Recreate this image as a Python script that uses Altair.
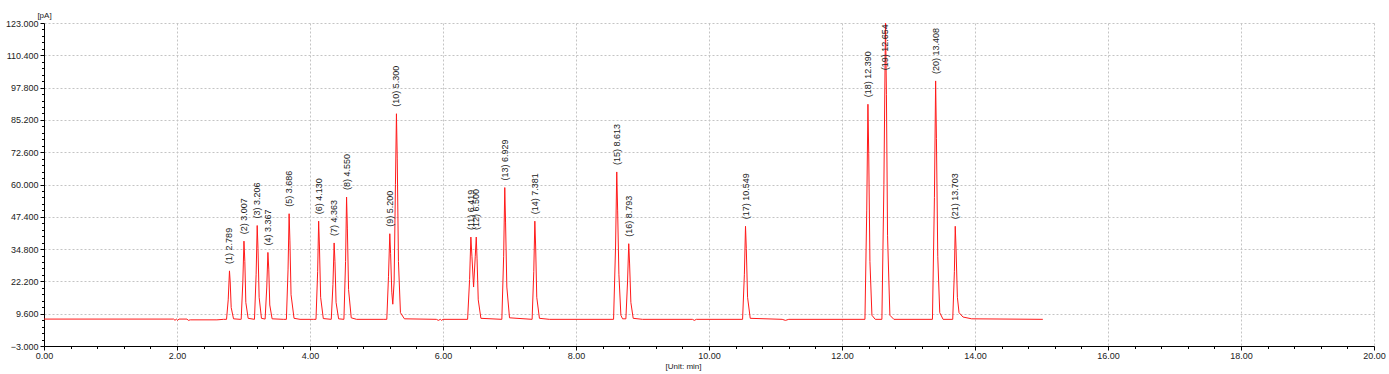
import altair as alt
import pandas as pd

# ---- chromatogram trace ----
trace_time = [
    0.00, 1.95, 1.97, 1.99, 2.01, 2.03, 2.15, 2.17, 2.20, 2.60, 2.70,
    2.745, 2.770, 2.789, 2.800, 2.815, 2.850, 2.950,
    2.965, 2.990, 3.007, 3.020, 3.035, 3.070,
    3.165, 3.190, 3.206, 3.218, 3.235, 3.270,
    3.325, 3.350, 3.367, 3.380, 3.395, 3.430, 3.600,
    3.645, 3.670, 3.686, 3.698, 3.715, 3.760, 3.850, 4.050,
    4.090, 4.115, 4.130, 4.142, 4.160, 4.200,
    4.320, 4.345, 4.363, 4.375, 4.392, 4.430,
    4.510, 4.535, 4.550, 4.562, 4.580, 4.620, 4.700, 5.100,
    5.155, 5.180, 5.200, 5.212, 5.230, 5.245,
    5.265, 5.285, 5.300, 5.312, 5.330, 5.360, 5.420,
    5.900, 5.930, 5.960, 5.980, 6.000, 6.370,
    6.400, 6.419, 6.435, 6.460,
    6.485, 6.500, 6.512, 6.530, 6.570,
    6.885, 6.912, 6.929, 6.941, 6.960, 7.000,
    7.340, 7.365, 7.381, 7.393, 7.410, 7.450, 7.600,
    8.565, 8.595, 8.613, 8.626, 8.645, 8.675, 8.700,
    8.750, 8.775, 8.793, 8.806, 8.825, 8.860, 9.000,
    9.750, 9.780, 9.810, 10.505,
    10.532, 10.549, 10.561, 10.580, 10.620,
    11.100, 11.150, 11.200, 12.345,
    12.372, 12.390, 12.402, 12.420, 12.450, 12.500,
    12.600, 12.630, 12.654, 12.668, 12.685, 12.720, 12.780,
    13.360, 13.390, 13.408, 13.420, 13.440, 13.470, 13.520,
    13.665, 13.690, 13.703, 13.715, 13.735, 13.760, 13.820, 13.950,
    15.020,
]
trace_signal = [
    7.5, 7.5, 7.0, 7.5, 7.0, 7.5, 7.5, 7.0, 7.2, 7.2, 7.4,
    7.4, 15.0, 26.3, 22.0, 12.0, 7.6, 7.4,
    7.4, 22.0, 37.9, 30.0, 14.0, 7.8,
    7.4, 25.0, 44.0, 35.0, 16.0, 7.8,
    7.5, 20.0, 33.5, 27.0, 13.0, 7.6, 7.4,
    7.4, 27.0, 48.6, 38.0, 17.0, 7.8, 7.4, 7.4,
    7.4, 26.0, 45.7, 36.0, 16.0, 7.7,
    7.4, 21.0, 37.2, 30.0, 14.0, 7.6,
    7.4, 30.0, 55.1, 43.0, 19.0, 8.0, 7.4, 7.4,
    7.4, 24.0, 40.8, 33.0, 18.0, 13.3,
    22.0, 60.0, 87.6, 70.0, 30.0, 10.0, 7.6,
    7.4, 7.0, 7.4, 7.0, 7.4, 7.4,
    23.0, 39.5, 32.0, 20.0,
    32.0, 39.5, 31.0, 15.0, 7.8,
    7.4, 32.0, 58.8, 45.0, 20.0, 8.0,
    7.4, 26.0, 45.7, 36.0, 16.0, 7.8, 7.4,
    7.4, 36.0, 64.9, 50.0, 25.0, 9.0, 7.6,
    7.6, 22.0, 36.9, 29.0, 14.0, 7.8, 7.4,
    7.4, 7.0, 7.4, 7.4,
    25.0, 43.7, 35.0, 16.0, 7.8,
    7.4, 7.0, 7.4, 7.4,
    50.0, 91.3, 72.0, 30.0, 9.0, 7.4,
    7.4, 60.0, 124.0, 95.0, 40.0, 9.0, 7.4,
    7.4, 55.0, 100.4, 78.0, 32.0, 10.0, 7.4,
    7.4, 26.0, 43.7, 35.0, 16.0, 10.0, 8.3, 7.6,
    7.4,
]

# ---- peak annotations ----
peak_time = [2.789, 3.007, 3.206, 3.367, 3.686, 4.130, 4.363, 4.550, 5.200, 5.300,
             6.419, 6.500, 6.929, 7.381, 8.613, 8.793, 10.549, 12.390, 12.654,
             13.408, 13.703]
peak_height = [26.3, 37.9, 44.0, 33.5, 48.6, 45.7, 37.2, 55.1, 40.8, 87.6,
               39.5, 39.5, 58.8, 45.7, 64.9, 36.9, 43.7, 91.3, 124.0,
               100.4, 43.7]
peak_label = [f"({i + 1}) {t:.3f}" for i, t in enumerate(peak_time)]

y_major = [-3.0, 9.6, 22.2, 34.8, 47.4, 60.0, 72.6, 85.2, 97.8, 110.4, 123.0]
x_major = [0, 2, 4, 6, 8, 10, 12, 14, 16, 18, 20]

y_ticks = [round(-3 + 2.52 * i, 2) for i in range(51)]
x_ticks = [round(0.4 * i, 2) for i in range(51)]

trace_df = pd.DataFrame({"t": trace_time, "s": trace_signal, "i": range(len(trace_time))})
peak_df = pd.DataFrame({"t": peak_time, "h": peak_height, "label": peak_label})

FONT = "Liberation Sans"
y_major_test = "abs((datum.value + 3) / 12.6 - round((datum.value + 3) / 12.6)) < 0.01"
x_major_test = "abs(datum.value / 2 - round(datum.value / 2)) < 0.01"

x_scale = alt.Scale(domain=[0, 20], nice=False, zero=False)
y_scale = alt.Scale(domain=[-3, 123], nice=False, zero=False)

x_axis = alt.Axis(
    values=x_ticks,
    tickCount=500,
    labelExpr=f"({x_major_test}) ? format(datum.value, '.2f') : ''",
    tickSize={"condition": {"test": x_major_test, "value": 4}, "value": 2.5},
    gridOpacity={"condition": {"test": x_major_test, "value": 1}, "value": 0},
    title="[Unit: min]",
    titleFontSize=8,
    titleFontWeight="normal",
    titleFont=FONT,
    titleColor="#222222",
    titleX=639,
    titleY=20,
    titleAlign="center",
    titleBaseline="middle",
    labelPadding=1,
    labelFlush=False,
    labelOverlap=False,
)
y_axis = alt.Axis(
    values=y_ticks,
    tickCount=500,
    labelExpr=f"({y_major_test}) ? format(datum.value, '.3f') : ''",
    tickSize={"condition": {"test": y_major_test, "value": 4}, "value": 2.5},
    gridOpacity={"condition": {"test": y_major_test, "value": 1}, "value": 0},
    title="[pA]",
    titleAngle=0,
    titleFontSize=8,
    titleFontWeight="normal",
    titleFont=FONT,
    titleColor="#222222",
    titleX=0,
    titleY=-8,
    titleAlign="center",
    titleBaseline="middle",
    labelPadding=2,
    labelFlush=False,
    labelOverlap=False,
)

line = alt.Chart(trace_df).mark_line(color="#ff1a1a", strokeWidth=1, clip=True).encode(
    x=alt.X("t:Q", scale=x_scale, axis=x_axis),
    y=alt.Y("s:Q", scale=y_scale, axis=y_axis),
    order=alt.Order("i:Q"),
)

labels = alt.Chart(peak_df).transform_calculate(
    anchor="min(datum.h, 101.8)"
).mark_text(
    angle=270, align="left", baseline="middle", dx=7,
    fontSize=9, font=FONT, color="#222222",
).encode(
    x=alt.X("t:Q", scale=x_scale),
    y=alt.Y("anchor:Q", scale=y_scale),
    text="label:N",
)

chart = alt.layer(line, labels).properties(
    width=1330,
    height=323,
    autosize=alt.AutoSizeParams(type="none"),
    padding={"left": 44, "top": 23, "right": 15, "bottom": 28},
).configure_view(stroke=None).configure_axis(
    domainColor="#000000",
    domainWidth=1,
    tickColor="#000000",
    gridColor="#c4c4c4",
    gridDash=[2, 2],
    gridWidth=1,
    labelFont=FONT,
    labelFontSize=9,
    labelColor="#222222",
)

chart.save("out.html", embed_options={"renderer": "svg", "actions": False})
